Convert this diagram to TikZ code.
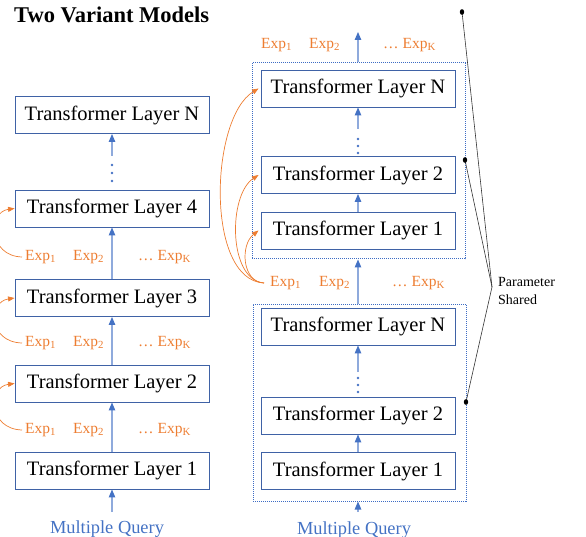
\documentclass[tikz,border=0pt]{standalone}
\usepackage{fontspec}
\setmainfont{Liberation Serif}
\usetikzlibrary{arrows.meta}
\definecolor{obl}{HTML}{4472C4}
\definecolor{bbl}{HTML}{3F62A6}
\definecolor{lbl}{HTML}{8FAADC}
\definecolor{dbl}{HTML}{3D6CC4}
\definecolor{ora}{HTML}{ED7D31}
\begin{document}
\begin{tikzpicture}[x=1pt,y=-1pt,
  layer/.style={draw=bbl, line width=0.9pt, minimum width=194pt, minimum height=37pt, inner sep=0pt, font=\fontsize{20.5}{24}\selectfont},
  expl/.style={text=ora, font=\fontsize{15.5}{18}\selectfont, anchor=west, inner sep=0pt},
  flow/.style={draw=lbl, line width=1.1pt, -{Triangle[length=8pt,width=6.5pt,color=obl,fill=obl]}},
  oarr/.style={draw=ora, line width=0.7pt, -{Triangle[length=6.5pt,width=5pt,color=ora,fill=ora]}},
  dbox/.style={draw=dbl, line width=1pt, dash pattern=on 1pt off 1pt, inner sep=0pt},
  vdot/.style={fill=obl, draw=none},
  query/.style={text=obl, font=\fontsize{18.4}{22}\selectfont, inner sep=0pt, anchor=base},
  pline/.style={draw=black!80, line width=0.6pt},
  pdot/.style={fill=black, draw=none}
]
\useasboundingbox (0,0) rectangle (586,537);

% title
\node[anchor=base west, inner sep=0pt, font=\fontsize{22.5}{26}\selectfont\bfseries] (title) at (14,22.5) {Two Variant Models};

% ---------------- left column ----------------
\node[layer] (LN) at (112,115) {Transformer Layer N};
\node[layer] (L4) at (112,208.5) {Transformer Layer 4};
\node[layer] (L3) at (112,298) {Transformer Layer 3};
\node[layer] (L2) at (112,383.5) {Transformer Layer 2};
\node[layer] (L1) at (112,470.5) {Transformer Layer 1};
\node[query] (mq1) at (107,533) {Multiple Query};
\coordinate (q1) at (112,512);

\foreach \r/\yy in {a/257,b/343,c/430}{
  \node[expl] (e1\r) at (25,\yy) {Exp\textsubscript{1}};
  \node[expl] (e2\r) at (73,\yy) {Exp\textsubscript{2}};
  \node[expl] (eK\r) at (138,\yy) {\ldots\ Exp\textsubscript{K}};
}

\draw[flow] (q1) -- (L1.south);
\draw[flow] (L1.north) -- (L2.south);
\draw[flow] (L2.north) -- (L3.south);
\draw[flow] (L3.north) -- (L4.south);
\coordinate (la) at (112,156);
\draw[flow] (la) -- (LN.south);
\foreach \yy in {165,173,181} \fill[vdot] (112,\yy) circle (1.3);

\draw[oarr] ([xshift=-3pt]e1a.west) .. controls (-12,256) and (-12,212) .. (L4.west);
\draw[oarr] ([xshift=-3pt]e1b.west) .. controls (-12,342) and (-12,302) .. (L3.west);
\draw[oarr] ([xshift=-3pt]e1c.west) .. controls (-12,429) and (-12,387) .. (L2.west);

% ---------------- right column ----------------
\node[dbox, minimum width=213pt, minimum height=196pt] (B1) at (358.5,161) {};
\node[dbox, minimum width=213pt, minimum height=197pt] (B2) at (359.5,402.5) {};

\node[layer] (RN) at (358,88.5) {Transformer Layer N};
\node[layer] (R2) at (358,175) {Transformer Layer 2};
\node[layer] (R1) at (358,230.5) {Transformer Layer 1};

\node[layer] (SN) at (358,326.5) {Transformer Layer N};
\node[layer] (S2) at (358,415.5) {Transformer Layer 2};
\node[layer] (S1) at (358,471) {Transformer Layer 1};

\node[query] (mq2) at (354,534) {Multiple Query};
\coordinate (q2) at (358,512);

% exp rows
\node[expl] (t1) at (261,45) {Exp\textsubscript{1}};
\node[expl] (t2) at (309,45) {Exp\textsubscript{2}};
\node[expl] (tK) at (383,45) {\ldots\ Exp\textsubscript{K}};
\node[expl] (m1) at (270,283) {Exp\textsubscript{1}};
\node[expl] (m2) at (319,283) {Exp\textsubscript{2}};
\node[expl] (mK) at (392,283) {\ldots\ Exp\textsubscript{K}};

\coordinate (out) at (358,32);

\draw[flow] (q2) -- (B2.south -| S1.south);
\draw[flow] (S1.north) -- (S2.south);
\coordinate (sa) at (358,372);
\draw[flow] (sa) -- (SN.south);
\foreach \yy in {378,385,392} \fill[vdot] (358,\yy) circle (1.3);
\draw[flow] (B2.north -| SN.north) -- (B1.south -| R1.south);

\draw[flow] (R1.north) -- (R2.south);
\coordinate (ra) at (358,129);
\draw[flow] (ra) -- (RN.south);
\foreach \yy in {139,146,153} \fill[vdot] (358,\yy) circle (1.3);
\draw[flow] (B1.north -| RN.north) -- (out);

\draw[oarr] ([xshift=-6pt]m1.west) .. controls (205,280) and (210,118) .. ([xshift=-2pt]RN.west);
\draw[oarr] ([xshift=-6pt]m1.west) .. controls (228,280) and (228,195) .. ([xshift=-2pt]R2.west);
\draw[oarr] ([xshift=-6pt]m1.west) .. controls (242,282) and (240,245) .. ([xshift=-2pt]R1.west);

% parameter shared
\coordinate (p0) at (462,12);
\coordinate (p1) at (465,160);
\coordinate (p2) at (466,402);
\coordinate (pc) at (492,287);
\node[anchor=west, align=left, inner sep=0pt, font=\fontsize{14}{17.5}\selectfont] (ps) at (498,291) {Parameter\\Shared};
\draw[pline] (p0) -- (pc);
\draw[pline] (p1) -- (pc);
\draw[pline] (p2) -- (pc);
\foreach \p in {p0,p1,p2} \fill[pdot] (\p) ellipse (2.2 and 2.8);
\end{tikzpicture}
\end{document}
